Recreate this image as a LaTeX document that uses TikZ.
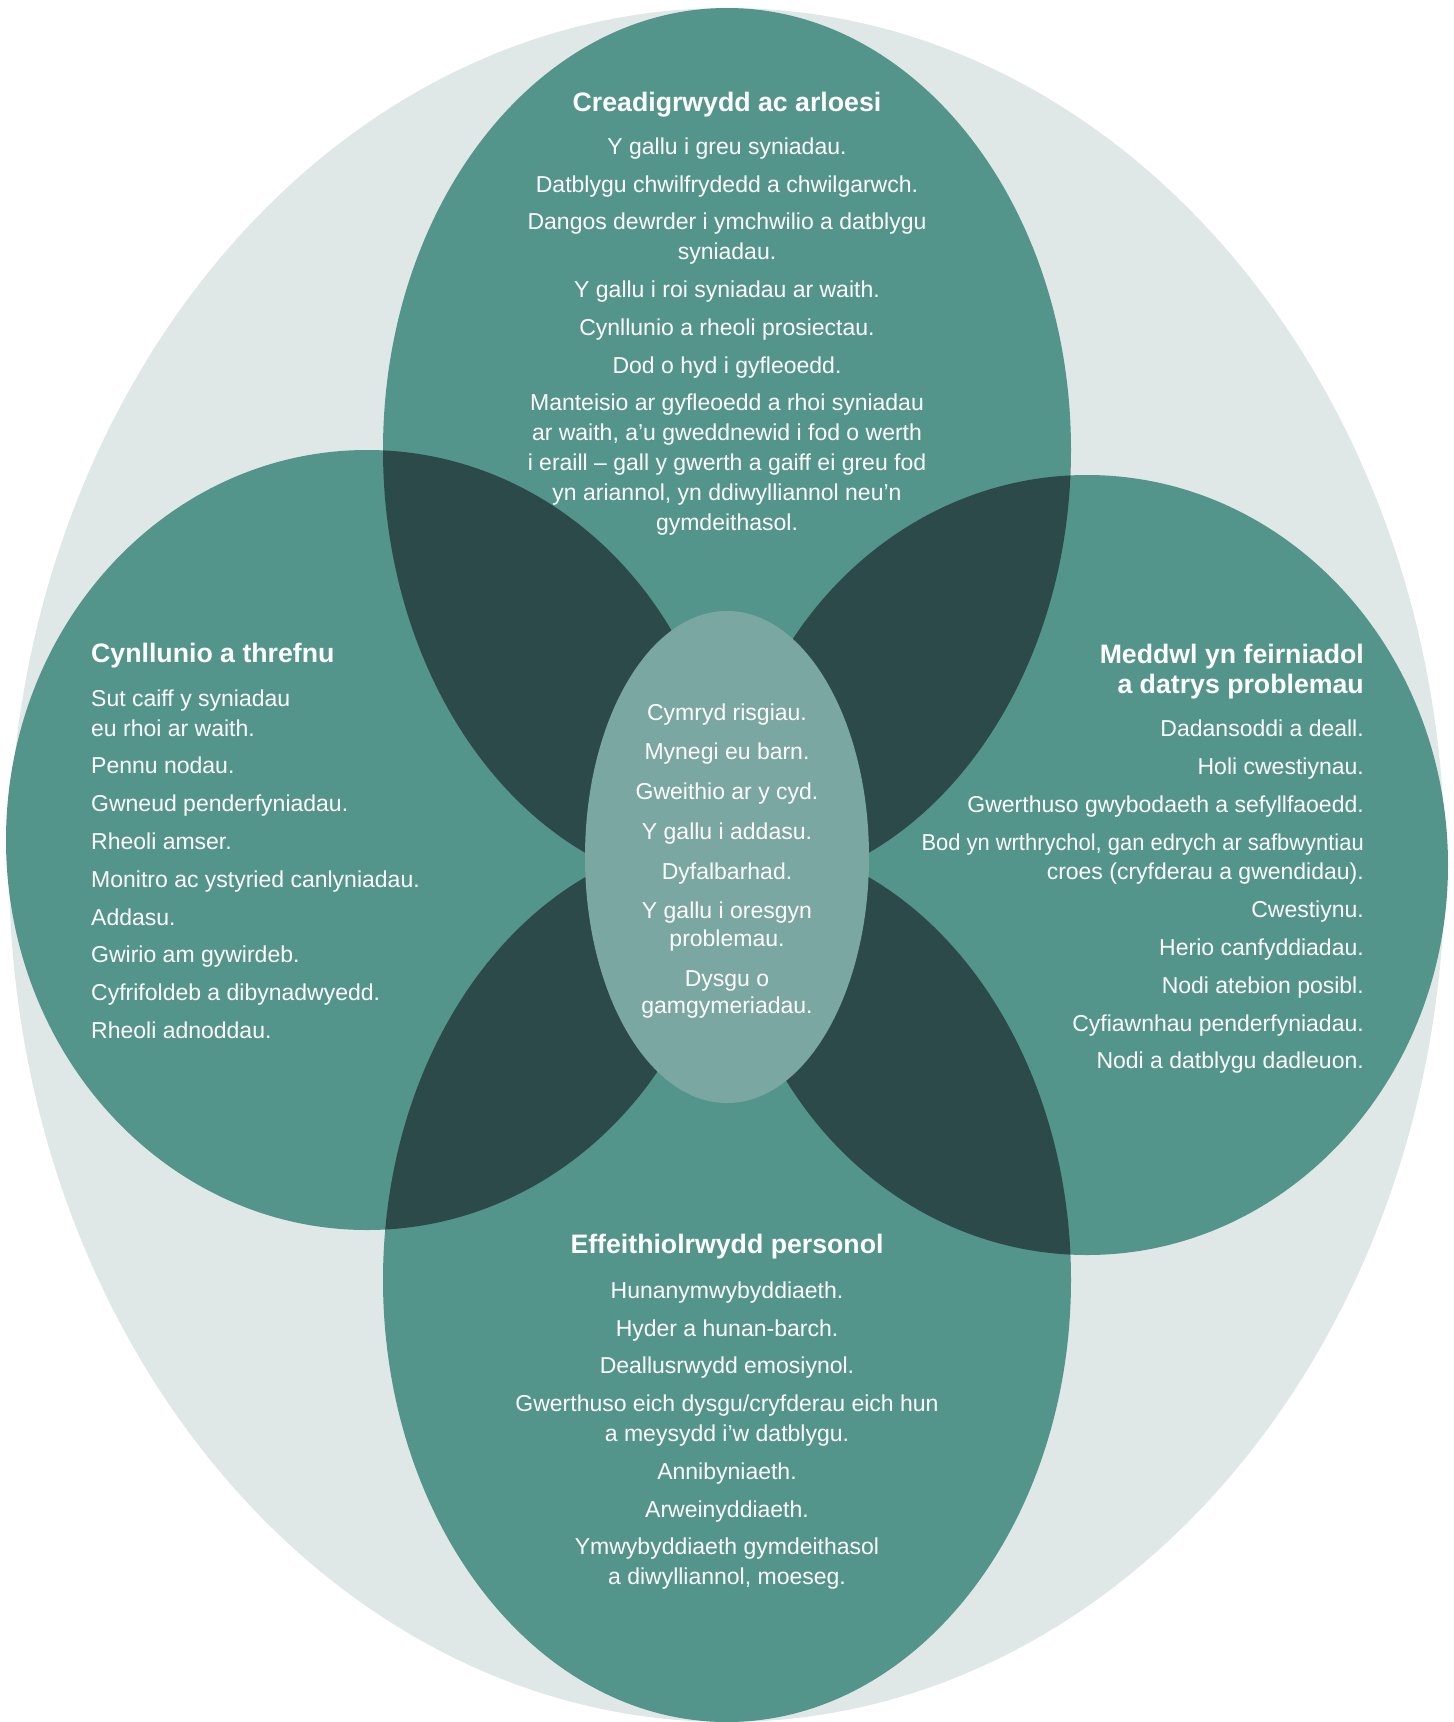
\documentclass[tikz,border=0pt]{standalone}
\usepackage{fontspec}
\setmainfont{Liberation Sans}
\definecolor{petal}{RGB}{84,149,139}
\definecolor{overlap}{RGB}{44,74,74}
\definecolor{core}{RGB}{122,167,161}
\definecolor{halo}{RGB}{224,232,231}
\tikzset{
  bodytext/.style={inner sep=0pt, text=white, font=\fontsize{23}{29.8}\selectfont},
  coretext/.style={inner sep=0pt, text=white, font=\fontsize{23}{27.5}\selectfont},
  titletext/.style={inner sep=0pt, text=white, font=\bfseries\fontsize{26.7}{29.5}\selectfont},
  topshape/.style={x radius=344pt, y radius=442pt},
  sideshape/.style={x radius=361pt, y radius=390pt},
}
\begin{document}
\begin{tikzpicture}[x=1pt,y=-1pt]
\useasboundingbox (0,0) rectangle (1454,1722);
% background
\fill[halo] (727,865) ellipse [x radius=718pt, y radius=857pt];
% petals
\fill[petal] (727,450) ellipse [topshape];
\fill[petal] (727,1280) ellipse [topshape];
\fill[petal] (367,840) ellipse [sideshape];
\fill[petal] (1087,865) ellipse [sideshape];
% overlaps
\begin{scope}
  \clip (727,450) ellipse [topshape];
  \fill[overlap] (367,840) ellipse [sideshape];
  \fill[overlap] (1087,865) ellipse [sideshape];
\end{scope}
\begin{scope}
  \clip (727,1280) ellipse [topshape];
  \fill[overlap] (367,840) ellipse [sideshape];
  \fill[overlap] (1087,865) ellipse [sideshape];
\end{scope}
% centre
\fill[core] (727,857) ellipse [x radius=142pt, y radius=246pt];

% top block
\node[titletext, anchor=base] (toptitle) at (727,111) {Creadigrwydd ac arloesi};
\node[bodytext, anchor=north, align=center] (topbody) at (727,136) {\rule{0pt}{18pt}Y gallu i greu syniadau.\\[8pt]
Datblygu chwilfrydedd a chwilgarwch.\\[8pt]
Dangos dewrder i ymchwilio a datblygu\\
syniadau.\\[8pt]
Y gallu i roi syniadau ar waith.\\[8pt]
Cynllunio a rheoli prosiectau.\\[8pt]
Dod o hyd i gyfleoedd.\\[8pt]
Manteisio ar gyfleoedd a rhoi syniadau\\
ar waith, a’u gweddnewid i fod o werth\\
i eraill – gall y gwerth a gaiff ei greu fod\\
yn ariannol, yn ddiwylliannol neu’n\\
gymdeithasol.};

% left block
\node[titletext, anchor=base west] (lefttitle) at (91,662.5) {Cynllunio a threfnu};
\node[bodytext, anchor=north west, align=left] (leftbody) at (91,688) {\rule{0pt}{18pt}Sut caiff y syniadau\\
eu rhoi ar waith.\\[8pt]
Pennu nodau.\\[8pt]
Gwneud penderfyniadau.\\[8pt]
Rheoli amser.\\[8pt]
Monitro ac ystyried canlyniadau.\\[8pt]
Addasu.\\[8pt]
Gwirio am gywirdeb.\\[8pt]
Cyfrifoldeb a dibynadwyedd.\\[8pt]
Rheoli adnoddau.};

% right block
\node[titletext, anchor=north east, align=right] (righttitle) at (1364,643.5) {\rule{0pt}{20pt}Meddwl yn feirniadol\\
a datrys problemau};
\node[bodytext, anchor=north east, align=right] (rightbody) at (1364,718.5) {\rule{0pt}{18pt}Dadansoddi a deall.\\[8pt]
Holi cwestiynau.\\[8pt]
Gwerthuso gwybodaeth a sefyllfaoedd.\\[8pt]
\scalebox{0.953}[1]{Bod yn wrthrychol, gan edrych ar safbwyntiau}\\
croes (cryfderau a gwendidau).\\[8pt]
Cwestiynu.\\[8pt]
Herio canfyddiadau.\\[8pt]
Nodi atebion posibl.\\[8pt]
Cyfiawnhau penderfyniadau.\\[8pt]
Nodi a datblygu dadleuon.};

% centre block
\node[coretext, anchor=north, align=center] (corebody) at (727,702) {\rule{0pt}{18pt}Cymryd risgiau.\\[12.25pt]
Mynegi eu barn.\\[12.25pt]
Gweithio ar y cyd.\\[12.25pt]
Y gallu i addasu.\\[12.25pt]
Dyfalbarhad.\\[12.25pt]
Y gallu i oresgyn\\
problemau.\\[12.25pt]
Dysgu o\\
gamgymeriadau.};

% bottom block
\node[titletext, anchor=base] (bottomtitle) at (727,1253.5) {Effeithiolrwydd personol};
\node[bodytext, anchor=north, align=center] (bottombody) at (727,1280) {\rule{0pt}{18pt}Hunanymwybyddiaeth.\\[8pt]
Hyder a hunan-barch.\\[8pt]
Deallusrwydd emosiynol.\\[8pt]
Gwerthuso eich dysgu/cryfderau eich hun\\
a meysydd i’w datblygu.\\[8pt]
Annibyniaeth.\\[8pt]
Arweinyddiaeth.\\[8pt]
Ymwybyddiaeth gymdeithasol\\
a diwylliannol, moeseg.};
\end{tikzpicture}
\end{document}
